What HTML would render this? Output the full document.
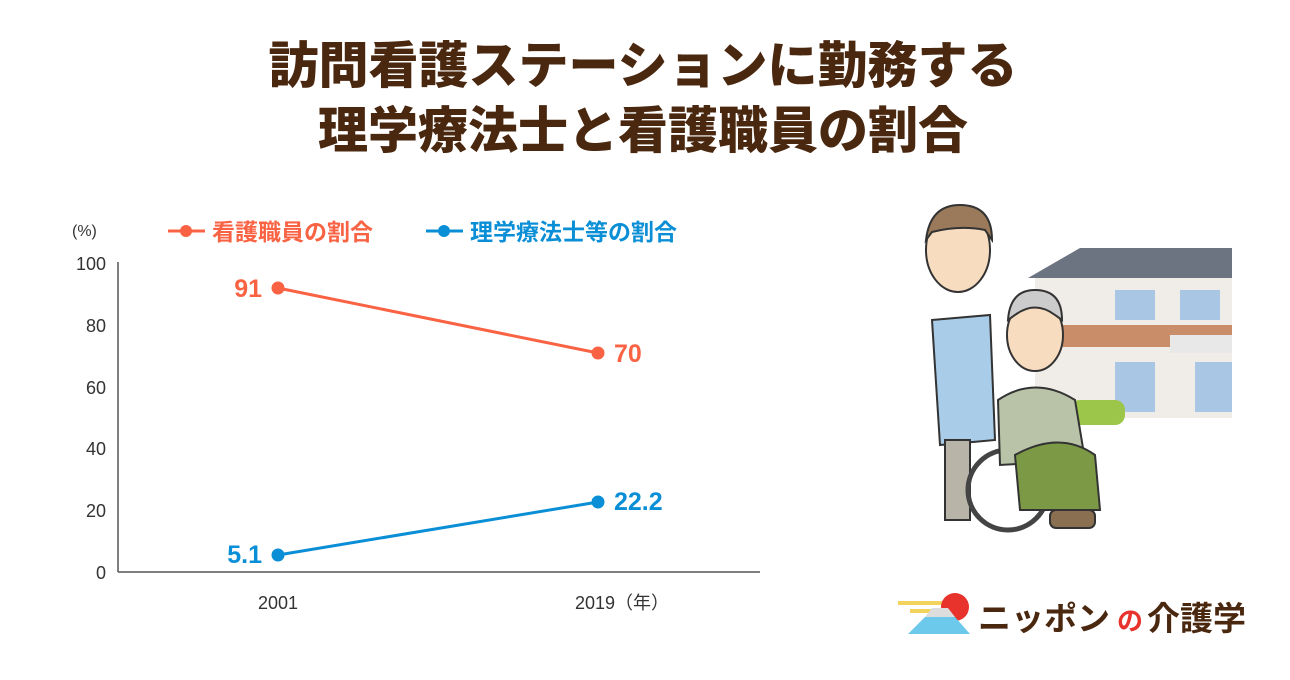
<!DOCTYPE html>
<html><head><meta charset="utf-8"><style>
body{margin:0;width:1290px;height:675px;background:#fff;overflow:hidden;font-family:"Liberation Sans","Noto Sans CJK JP",sans-serif}
</style></head><body>
<svg width="1290" height="675" xmlns="http://www.w3.org/2000/svg" font-family="Liberation Sans, Noto Sans CJK JP, sans-serif">
<text x="643" y="83" text-anchor="middle" font-size="50" font-weight="900" fill="#4a2810">訪問看護ステーションに勤務する</text>
<text x="643" y="148" text-anchor="middle" font-size="50" font-weight="900" fill="#4a2810">理学療法士と看護職員の割合</text>
<!-- legend -->
<text x="72" y="236" font-size="16" fill="#333">(%)</text>
<line x1="168" y1="231" x2="205" y2="231" stroke="#f96344" stroke-width="3"/><circle cx="186" cy="231" r="6" fill="#f96344"/>
<text x="212" y="240" font-size="23" font-weight="700" fill="#f96344">看護職員の割合</text>
<line x1="426" y1="231" x2="463" y2="231" stroke="#0a8fd6" stroke-width="3"/><circle cx="444" cy="231" r="6" fill="#0a8fd6"/>
<text x="470" y="240" font-size="23" font-weight="700" fill="#0a8fd6">理学療法士等の割合</text>
<!-- axes -->
<line x1="118" y1="262" x2="118" y2="572" stroke="#555" stroke-width="1.5"/>
<line x1="118" y1="572" x2="760" y2="572" stroke="#555" stroke-width="1.5"/>
<g font-size="18" fill="#333" text-anchor="end">
<text x="106" y="270">100</text><text x="106" y="332">80</text><text x="106" y="394">60</text><text x="106" y="455">40</text><text x="106" y="517">20</text><text x="106" y="579">0</text>
</g>
<text x="278" y="609" font-size="18" fill="#333" text-anchor="middle">2001</text>
<text x="575" y="609" font-size="18" fill="#333">2019（年）</text>
<!-- series -->
<line x1="278" y1="288" x2="598" y2="353" stroke="#f96344" stroke-width="3"/>
<circle cx="278" cy="288" r="6.5" fill="#f96344"/><circle cx="598" cy="353" r="6.5" fill="#f96344"/>
<text x="262" y="297" font-size="25" font-weight="700" fill="#f96344" text-anchor="end">91</text>
<text x="614" y="362" font-size="25" font-weight="700" fill="#f96344">70</text>
<line x1="278" y1="555" x2="598" y2="502" stroke="#0a8fd6" stroke-width="3"/>
<circle cx="278" cy="555" r="6.5" fill="#0a8fd6"/><circle cx="598" cy="502" r="6.5" fill="#0a8fd6"/>
<text x="262" y="563" font-size="25" font-weight="700" fill="#0a8fd6" text-anchor="end">5.1</text>
<text x="614" y="510" font-size="25" font-weight="700" fill="#0a8fd6">22.2</text>
<!-- illustration: building -->
<polygon points="1028,278 1080,248 1232,248 1232,278" fill="#6b7480"/>
<rect x="1035" y="278" width="197" height="140" fill="#f0ede8"/>
<rect x="1035" y="325" width="197" height="22" fill="#c98d6a"/>
<rect x="1170" y="335" width="62" height="18" fill="#e8e8e8"/>
<rect x="1115" y="290" width="40" height="30" fill="#a9c6e4"/><rect x="1180" y="290" width="40" height="30" fill="#a9c6e4"/>
<rect x="1115" y="362" width="40" height="50" fill="#a9c6e4"/><rect x="1195" y="362" width="37" height="50" fill="#a9c6e4"/>
<rect x="1070" y="400" width="55" height="25" rx="10" fill="#9bc64a"/>
<!-- people -->
<ellipse cx="958" cy="250" rx="32" ry="42" fill="#f7dcc0" stroke="#333" stroke-width="2"/>
<path d="M926 240 Q930 205 960 205 Q992 205 992 240 L985 230 Q960 225 932 232Z" fill="#9a7a5a" stroke="#333" stroke-width="2"/>
<path d="M932 320 L990 315 L995 440 L940 445Z" fill="#a9cde9" stroke="#333" stroke-width="2"/>
<rect x="945" y="440" width="25" height="80" fill="#b8b4a8" stroke="#333" stroke-width="2"/>
<circle cx="1008" cy="490" r="40" fill="none" stroke="#444" stroke-width="5"/>
<ellipse cx="1035" cy="335" rx="28" ry="36" fill="#f7dcc0" stroke="#333" stroke-width="2"/>
<path d="M1008 320 Q1010 290 1035 290 Q1062 290 1062 320 L1055 315 Q1035 300 1015 315Z" fill="#ccc" stroke="#333" stroke-width="2"/>
<path d="M998 400 Q1035 375 1075 400 L1085 460 L1000 465Z" fill="#b9c3a8" stroke="#333" stroke-width="2"/>
<path d="M1015 455 Q1060 430 1095 455 L1100 510 L1020 510Z" fill="#7c9a45" stroke="#333" stroke-width="2"/>
<rect x="1050" y="510" width="45" height="18" rx="6" fill="#8a7050" stroke="#333" stroke-width="2"/>
<!-- logo -->
<rect x="898" y="601" width="50" height="4" fill="#f2d35c"/><rect x="910" y="609" width="30" height="4" fill="#f2d35c"/>
<circle cx="955" cy="607" r="14" fill="#e8322c"/>
<polygon points="908,634 970,634 955,617 925,617" fill="#6cc9ec"/>
<polygon points="925,617 955,617 948,608 932,608" fill="#ddd"/>
<text x="978" y="630" font-size="33" font-weight="700" fill="#4a2810">ニッポン</text>
<text x="1117" y="630" font-size="26" font-weight="700" fill="#e8322c">の</text>
<text x="1147" y="630" font-size="33" font-weight="700" fill="#4a2810">介護学</text>
</svg>
</body></html>
